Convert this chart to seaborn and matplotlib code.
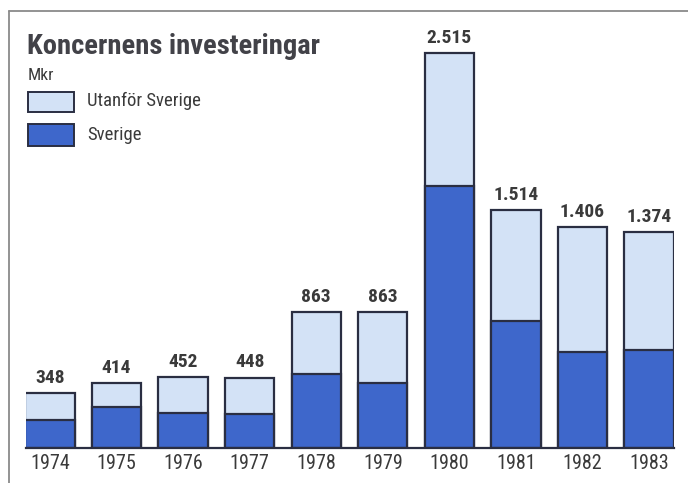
import pandas as pd
import matplotlib.pyplot as plt
import seaborn as sns
from matplotlib.patches import Rectangle

# Data (Mkr)
years = ["1974", "1975", "1976", "1977", "1978", "1979", "1980", "1981", "1982", "1983"]
totals = [348, 414, 452, 448, 863, 863, 2515, 1514, 1406, 1374]
sverige = [178, 261, 223, 216, 471, 414, 1668, 809, 611, 624]
total_labels = ["348", "414", "452", "448", "863", "863", "2.515", "1.514", "1.406", "1.374"]

df = pd.DataFrame({"År": years, "Totalt": totals, "Sverige": sverige})

sns.set_style("white")
plt.rcParams["font.family"] = ["Roboto Condensed", "DejaVu Sans"]

light = "#d3e2f6"
dark = "#3e67cb"
edge = "#2a2e42"
txt = "#3a3a3a"

fig = plt.figure(figsize=(6.88, 4.83), dpi=100)
ax = fig.add_axes([26 / 688, 35 / 483, 648 / 688, 418 / 483])

# totals first (light), Sverige on top (dark)
sns.barplot(data=df, x="År", y="Totalt", color=light, edgecolor=edge,
            linewidth=1.6, width=0.74, saturation=1, ax=ax)
sns.barplot(data=df, x="År", y="Sverige", color=dark, edgecolor=edge,
            linewidth=1.6, width=0.74, saturation=1, ax=ax)

ax.set_xlim(-0.36, 9.375)
ax.set_ylim(0, 2661)
ax.set_xlabel("")
ax.set_ylabel("")
ax.set_yticks([])
for s in ["top", "right", "left"]:
    ax.spines[s].set_visible(False)
ax.spines["bottom"].set_color(edge)
ax.spines["bottom"].set_linewidth(1.6)
ax.tick_params(axis="x", length=0, pad=4, labelsize=14.5, labelcolor=txt)

for i, lab in enumerate(total_labels):
    ax.text(i, totals[i] + 40, lab, ha="center", va="bottom",
            fontsize=14, fontweight="bold", color=txt)

# title, unit and legend
fig.text(27 / 688, 1 - 47 / 483, "Koncernens investeringar", fontsize=20.5,
         fontweight="bold", color="#424248", va="center", ha="left")
fig.text(28 / 688, 1 - 75 / 483, "Mkr", fontsize=12.5, color=txt,
         va="center", ha="left")
fig.patches.append(Rectangle((28 / 688, 1 - 112 / 483), 46 / 688, 20 / 483,
                             transform=fig.transFigure, facecolor=light,
                             edgecolor=edge, linewidth=1.4))
fig.patches.append(Rectangle((28 / 688, 1 - 146 / 483), 46 / 688, 22 / 483,
                             transform=fig.transFigure, facecolor=dark,
                             edgecolor=edge, linewidth=1.4))
fig.text(87 / 688, 1 - 101 / 483, "Utanför Sverige", fontsize=13.5,
         color=txt, va="center", ha="left")
fig.text(87 / 688, 1 - 135 / 483, "Sverige", fontsize=13.5,
         color=txt, va="center", ha="left")

# outer frame (top and left edges)
fig.add_artist(plt.Line2D([9 / 688, 1], [1 - 11 / 483] * 2,
                          transform=fig.transFigure, color="#8a8a8a", lw=1.3))
fig.add_artist(plt.Line2D([9 / 688] * 2, [0, 1 - 11 / 483],
                          transform=fig.transFigure, color="#8a8a8a", lw=1.3))

fig.savefig("out.png", dpi=100)
